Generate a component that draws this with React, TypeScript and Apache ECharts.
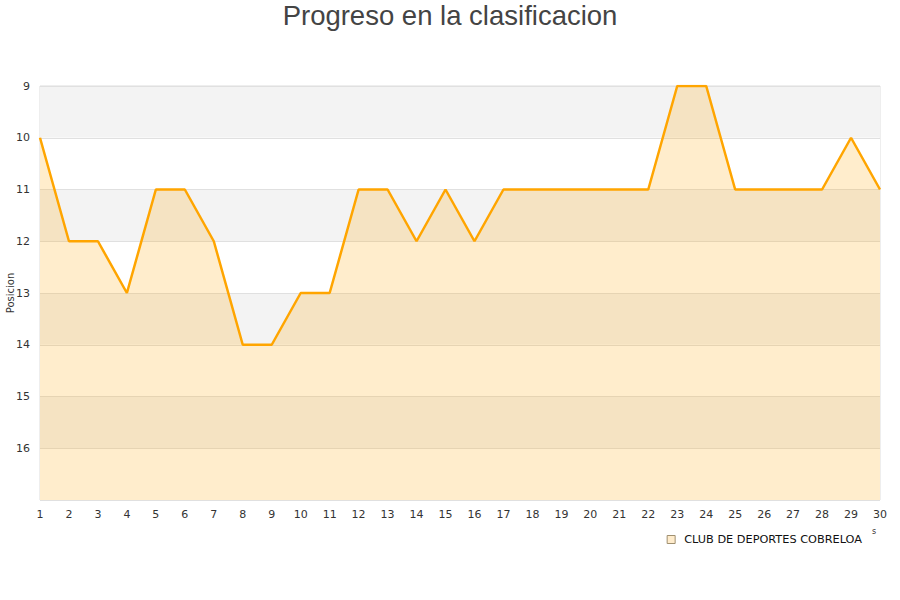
import React, { useEffect, useRef } from "react";
import * as echarts from "echarts";

const jornadas = ["1","2","3","4","5","6","7","8","9","10","11","12","13","14","15","16","17","18","19","20","21","22","23","24","25","26","27","28","29","30"];
const posiciones = [10, 12, 12, 13, 11, 11, 12, 14, 14, 13, 13, 11, 11, 12, 11, 12, 11, 11, 11, 11, 11, 11, 9, 9, 11, 11, 11, 11, 10, 11];
const equipo = "CLUB DE DEPORTES COBRELOA";
const titulo = "Progreso en la clasificacion";

export default function App() {
  const ref = useRef<HTMLDivElement>(null);
  useEffect(() => {
    const chart = echarts.init(ref.current!, null, { renderer: "svg" });
    chart.setOption({
      animation: false,
      title: {
        text: titulo,
        left: "center",
        top: -4,
        textStyle: { fontFamily: "Liberation Sans, Arial, sans-serif", fontSize: 27.5, fontWeight: "normal", color: "#444" },
      },
      grid: { left: 40, right: 20, top: 86, bottom: 100, containLabel: false, outerBoundsMode: "none", show: true, borderColor: "#ddd", borderWidth: 1, backgroundColor: "transparent" },
      legend: {
        data: [equipo],
        right: 33,
        top: 529,
        icon: "rect",
        itemWidth: 8,
        itemHeight: 8,
        itemGap: 6,
        itemStyle: { color: "#ffeccc", borderColor: "#a09070", borderWidth: 1 },
        textStyle: { fontFamily: "DejaVu Sans, sans-serif", fontSize: 11.3, color: "#111", padding: [0, 0, 0, 4] },
      },
      xAxis: {
        type: "category",
        data: jornadas,
        boundaryGap: false,
        axisLine: { show: false },
        axisTick: { show: false },
        axisLabel: { fontFamily: "DejaVu Sans, sans-serif", fontSize: 11, color: "#333", margin: 9, interval: 0 },
        splitLine: { show: false },
      },
      yAxis: {
        type: "value",
        inverse: true,
        min: 9,
        max: 17,
        interval: 1,
        axisLine: { show: false },
        axisTick: { show: false },
        axisLabel: { fontFamily: "DejaVu Sans, sans-serif", fontSize: 11, color: "#333", margin: 10, showMaxLabel: false },
        splitLine: { show: true, lineStyle: { color: "#e0e0e0", width: 1 } },
        splitArea: { show: true, areaStyle: { color: ["#f3f3f3", "#ffffff"] } },
      },
      graphic: [
        {
          type: "text",
          x: 10,
          y: 293,
          rotation: Math.PI / 2,
          style: { text: "Posicion", fontSize: 10, fill: "#333", fontFamily: "DejaVu Sans, sans-serif", align: "center", verticalAlign: "middle" },
        },
        { type: "text", left: 872, top: 527, style: { text: "s", fontSize: 8, fill: "#333", fontFamily: "DejaVu Sans, sans-serif" } },
      ],
      series: [
        {
          name: equipo,
          type: "line",
          data: posiciones,
          symbol: "none",
          lineStyle: { color: "#ffa500", width: 2.5 },
          itemStyle: { color: "#ffa500" },
          areaStyle: { color: "#ffa500", opacity: 0.2, origin: "end" },
        },
      ],
    });
    return () => chart.dispose();
  }, []);
  return <div ref={ref} style={{ width: 900, height: 600, position: "absolute", left: 0, top: 0 }} />;
}
